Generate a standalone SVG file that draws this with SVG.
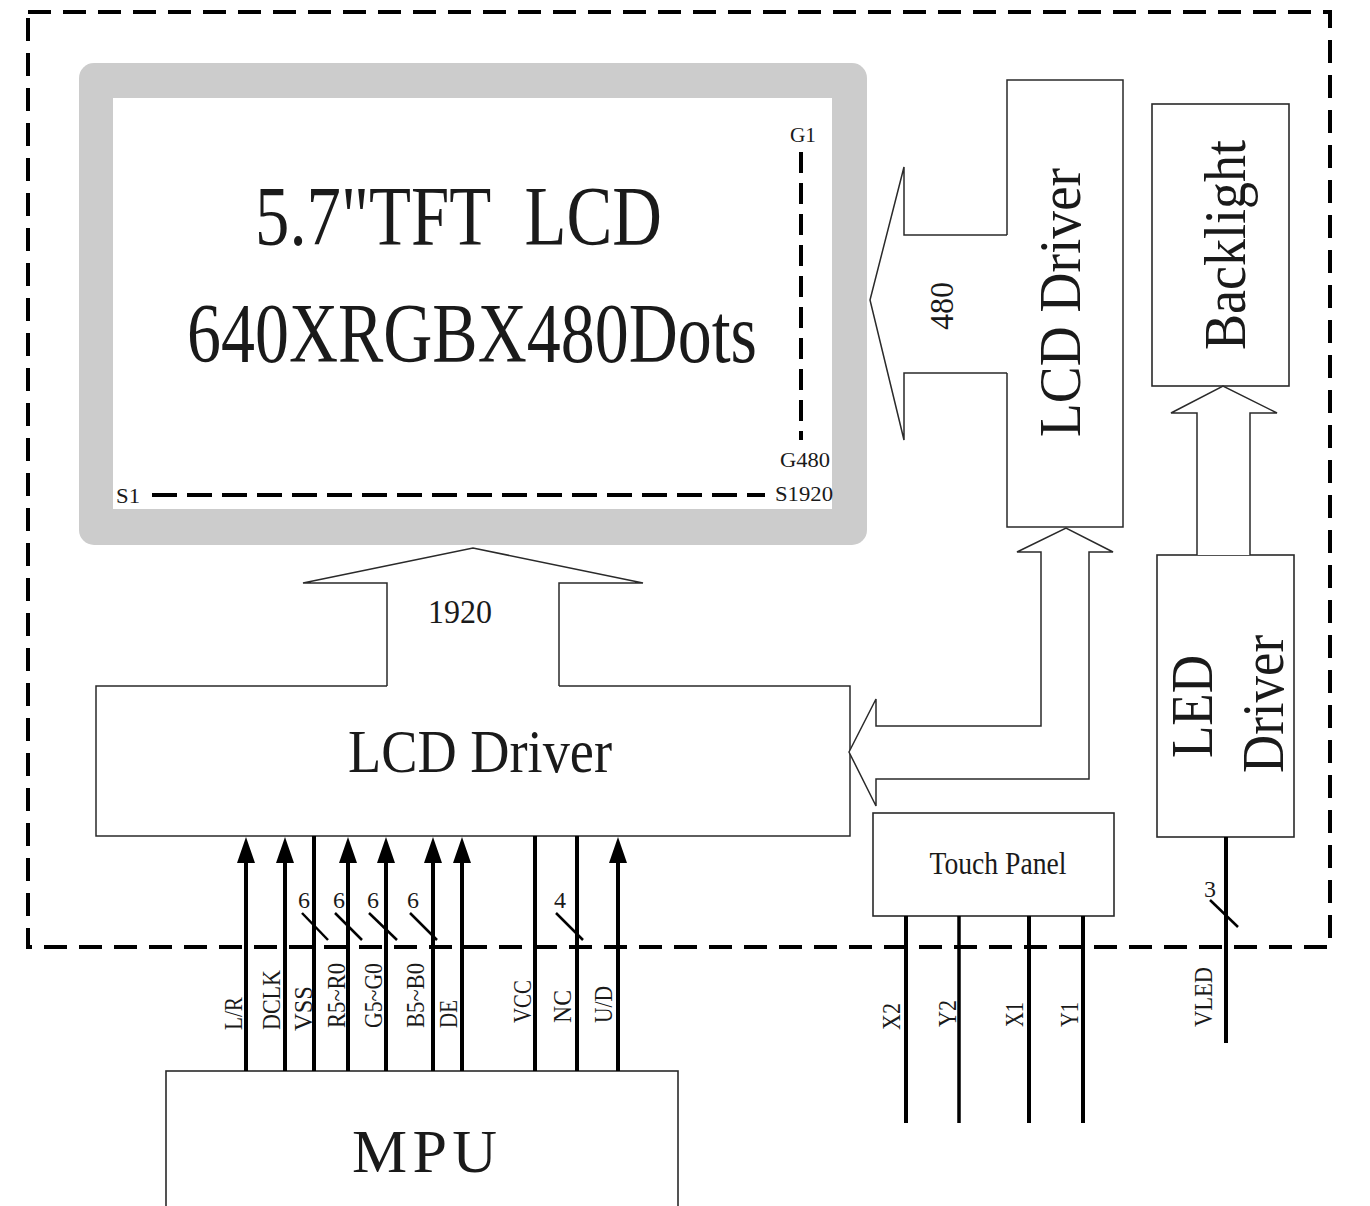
<svg xmlns="http://www.w3.org/2000/svg" width="1370" height="1206" viewBox="0 0 1370 1206">
<style>
  text { font-family: "Liberation Serif", "Times New Roman", serif; fill: #1a1a1a; }
  .box { fill: #ffffff; stroke: #2a2a2a; stroke-width: 1.6; }
  .outline { fill: #ffffff; stroke: #2a2a2a; stroke-width: 1.5; stroke-linejoin: miter; }
  .sig { stroke: #000; stroke-width: 4; fill: none; }
  .sig3 { stroke: #000; stroke-width: 3.5; fill: none; }
  .slash { stroke: #000; stroke-width: 2.5; }
  .border { fill: none; stroke: #000; stroke-width: 4; stroke-dasharray: 23 12; }
  .gdash { fill: none; stroke: #000; stroke-width: 4; stroke-dasharray: 21 10; }
  .pin { font-size: 26px; }
  .num { font-size: 24px; }
</style>
<defs>
  <marker id="ah" markerUnits="userSpaceOnUse" markerWidth="26" markerHeight="18" viewBox="0 0 26 18" refX="13" refY="9" orient="auto">
    <path d="M0,0 L26,9 L0,18 z" fill="#000"/>
  </marker>
</defs>
<rect width="1370" height="1206" fill="#ffffff"/>

<!-- outer dashed module border -->
<rect x="28" y="12" width="1302" height="935" class="border"/>

<!-- LCD panel -->
<g id="lcd-panel">
  <rect x="79" y="63" width="788" height="482" rx="15" fill="#cccccc"/>
  <rect x="113" y="98" width="719" height="411" fill="#ffffff"/>
  <text x="255" y="245" font-size="84" textLength="407" lengthAdjust="spacingAndGlyphs" style="white-space:pre">5.7"TFT  LCD</text>
  <text x="187" y="362" font-size="84" textLength="570" lengthAdjust="spacingAndGlyphs">640XRGBX480Dots</text>
  <text x="803" y="142" font-size="21" text-anchor="middle" textLength="26" lengthAdjust="spacingAndGlyphs">G1</text>
  <line x1="801" y1="152" x2="801" y2="440" class="gdash"/>
  <text x="805" y="467" font-size="21" text-anchor="middle" textLength="50" lengthAdjust="spacingAndGlyphs">G480</text>
  <text x="804" y="501" font-size="21" text-anchor="middle" textLength="58" lengthAdjust="spacingAndGlyphs">S1920</text>
  <text x="116" y="503" font-size="21" textLength="24" lengthAdjust="spacingAndGlyphs">S1</text>
  <line x1="152" y1="495" x2="765" y2="495" stroke="#000" stroke-width="4" stroke-dasharray="25 10"/>
</g>

<!-- Gate LCD driver (vertical) -->
<g id="lcd-driver-gate">
  <path d="M1007,235 V80 H1123 V527 H1007 V373" class="outline" fill="none"/>
  <text transform="translate(1080,437) rotate(-90)" font-size="60" textLength="269" lengthAdjust="spacingAndGlyphs">LCD Driver</text>
</g>

<!-- Backlight -->
<g id="backlight">
  <rect x="1152" y="104" width="137" height="282" class="box"/>
  <text transform="translate(1245,350) rotate(-90)" font-size="60" textLength="210" lengthAdjust="spacingAndGlyphs">Backlight</text>
</g>

<!-- LED driver -->
<g id="led-driver">
  <rect x="1157" y="555" width="137" height="282" class="box"/>
  <text transform="translate(1212,758) rotate(-90)" font-size="60" textLength="103" lengthAdjust="spacingAndGlyphs">LED</text>
  <text transform="translate(1283,773) rotate(-90)" font-size="60" textLength="138" lengthAdjust="spacingAndGlyphs">Driver</text>
</g>

<!-- Source LCD driver (horizontal) -->
<g id="lcd-driver-source">
  <path d="M387,686 H96 V836 H850 V686 H559" class="outline"/>
  <text x="348" y="772" font-size="62" textLength="264" lengthAdjust="spacingAndGlyphs">LCD Driver</text>
</g>

<!-- Touch panel -->
<g id="touch-panel">
  <rect x="873" y="813" width="241" height="103" class="box"/>
  <text x="998" y="874" font-size="31" text-anchor="middle" textLength="137" lengthAdjust="spacingAndGlyphs">Touch Panel</text>
</g>

<!-- MPU -->
<g id="mpu">
  <rect x="166" y="1071" width="512" height="150" class="box"/>
  <text x="352" y="1172" font-size="62" textLength="145" lengthAdjust="spacing">MPU</text>
</g>

<!-- connectors -->
<g id="connectors">
  <!-- 480 bus arrow -->
  <polyline points="1007,235 904,235 904,167 870,300 904,440 904,373 1007,373" class="outline" fill="#fff"/>
  <text transform="translate(953,330) rotate(-90)" font-size="34" textLength="48" lengthAdjust="spacingAndGlyphs">480</text>

  <!-- 1920 bus arrow -->
  <polyline points="387,686 387,583 303,583 473,548 643,583 559,583 559,686" class="outline" fill="#fff"/>
  <text x="428" y="623" font-size="34" textLength="64" lengthAdjust="spacingAndGlyphs">1920</text>

  <!-- double bus between drivers -->
  <polygon points="849,752 876,699 876,726 1041,726 1041,552 1017,552 1066,528 1113,552 1089,552 1089,779 876,779 876,806" class="outline"/>

  <!-- LED driver to backlight -->
  <polyline points="1197,555 1197,413 1171,413 1223,386 1277,413 1250,413 1250,555" class="outline"/>

  <!-- MPU signals -->
  <line x1="246" y1="1071" x2="246" y2="850" class="sig" marker-end="url(#ah)"/>
  <line x1="285" y1="1071" x2="285" y2="850" class="sig" marker-end="url(#ah)"/>
  <line x1="314" y1="1071" x2="314" y2="836" class="sig"/>
  <line x1="348" y1="1071" x2="348" y2="850" class="sig" marker-end="url(#ah)"/>
  <line x1="386" y1="1071" x2="386" y2="850" class="sig" marker-end="url(#ah)"/>
  <line x1="433" y1="1071" x2="433" y2="850" class="sig" stroke-width="5" marker-end="url(#ah)"/>
  <line x1="462" y1="1071" x2="462" y2="850" class="sig" marker-end="url(#ah)"/>
  <line x1="535" y1="1071" x2="535" y2="836" class="sig"/>
  <line x1="577" y1="1071" x2="577" y2="836" class="sig"/>
  <line x1="618" y1="1071" x2="618" y2="850" class="sig" marker-end="url(#ah)"/>

  <!-- bus width slashes -->
  <line x1="302" y1="913" x2="328" y2="940" class="slash"/>
  <line x1="335" y1="913" x2="362" y2="940" class="slash"/>
  <line x1="369" y1="913" x2="397" y2="940" class="slash"/>
  <line x1="410" y1="913" x2="437" y2="940" class="slash"/>
  <line x1="556" y1="913" x2="583" y2="940" class="slash"/>
  <text x="304" y="908" class="num" text-anchor="middle">6</text>
  <text x="339" y="908" class="num" text-anchor="middle">6</text>
  <text x="373" y="908" class="num" text-anchor="middle">6</text>
  <text x="413" y="908" class="num" text-anchor="middle">6</text>
  <text x="560" y="908" class="num" text-anchor="middle">4</text>

  <!-- MPU signal labels -->
  <text class="pin" transform="translate(242,1030) rotate(-90)" textLength="33" lengthAdjust="spacingAndGlyphs">L/R</text>
  <text class="pin" transform="translate(280,1030) rotate(-90)" textLength="60" lengthAdjust="spacingAndGlyphs">DCLK</text>
  <text class="pin" transform="translate(312,1031) rotate(-90)" textLength="45" lengthAdjust="spacingAndGlyphs">VSS</text>
  <text class="pin" transform="translate(345,1028) rotate(-90)" textLength="65" lengthAdjust="spacingAndGlyphs">R5~R0</text>
  <text class="pin" transform="translate(382,1028) rotate(-90)" textLength="65" lengthAdjust="spacingAndGlyphs">G5~G0</text>
  <text class="pin" transform="translate(424,1028) rotate(-90)" textLength="65" lengthAdjust="spacingAndGlyphs">B5~B0</text>
  <text class="pin" transform="translate(457,1028) rotate(-90)" textLength="28" lengthAdjust="spacingAndGlyphs">DE</text>
  <text class="pin" transform="translate(531,1023) rotate(-90)" textLength="43" lengthAdjust="spacingAndGlyphs">VCC</text>
  <text class="pin" transform="translate(571,1023) rotate(-90)" textLength="33" lengthAdjust="spacingAndGlyphs">NC</text>
  <text class="pin" transform="translate(612,1023) rotate(-90)" textLength="37" lengthAdjust="spacingAndGlyphs">U/D</text>

  <!-- Touch panel lines -->
  <line x1="906" y1="916" x2="906" y2="1123" class="sig"/>
  <line x1="959" y1="916" x2="959" y2="1123" class="sig3"/>
  <line x1="1029" y1="916" x2="1029" y2="1123" class="sig" stroke-width="5"/>
  <line x1="1083" y1="916" x2="1083" y2="1123" class="sig"/>
  <text class="pin" transform="translate(900,1030) rotate(-90)" textLength="27" lengthAdjust="spacingAndGlyphs">X2</text>
  <text class="pin" transform="translate(956,1027) rotate(-90)" textLength="27" lengthAdjust="spacingAndGlyphs">Y2</text>
  <text class="pin" transform="translate(1023,1027) rotate(-90)" textLength="25" lengthAdjust="spacingAndGlyphs">X1</text>
  <text class="pin" transform="translate(1078,1027) rotate(-90)" textLength="25" lengthAdjust="spacingAndGlyphs">Y1</text>

  <!-- VLED -->
  <line x1="1226" y1="837" x2="1226" y2="1043" class="sig" stroke-width="3"/>
  <line x1="1210" y1="900" x2="1238" y2="927" class="slash"/>
  <text x="1210" y="897" class="num" text-anchor="middle">3</text>
  <text class="pin" transform="translate(1212,1027) rotate(-90)" textLength="60" lengthAdjust="spacingAndGlyphs">VLED</text>
</g>
</svg>
